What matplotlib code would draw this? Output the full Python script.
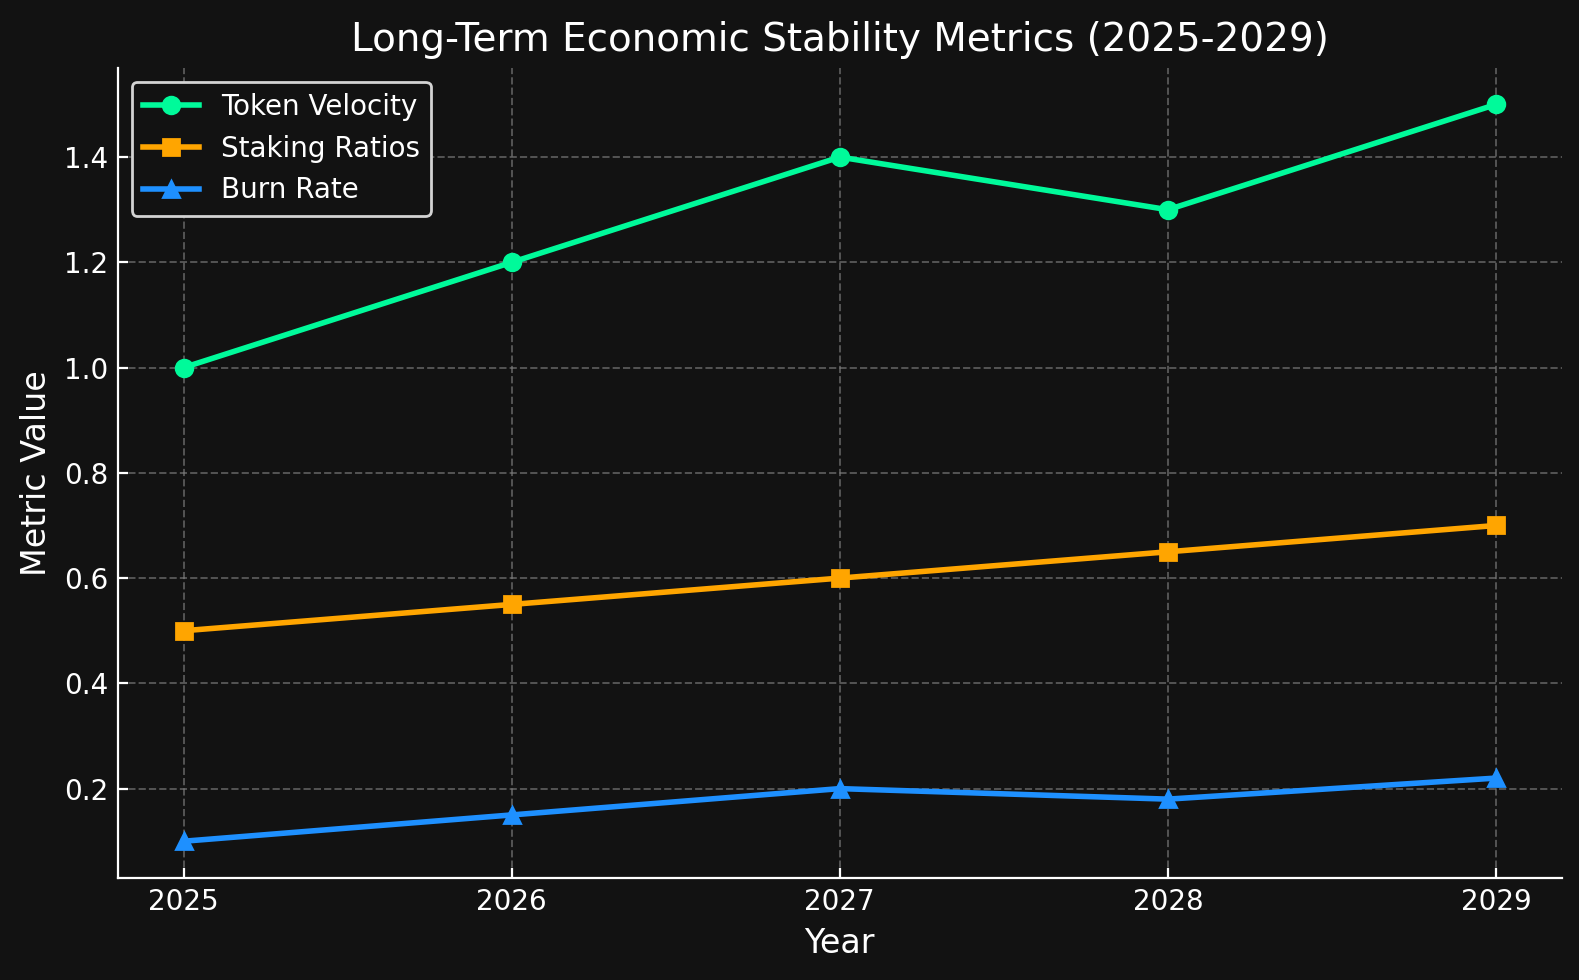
import matplotlib
matplotlib.use("Agg")
import matplotlib.pyplot as plt

years = [2025, 2026, 2027, 2028, 2029]
token_velocity = [1.0, 1.2, 1.4, 1.3, 1.5]
staking_ratios = [0.5, 0.55, 0.6, 0.65, 0.7]
burn_rate = [0.1, 0.15, 0.2, 0.18, 0.22]

plt.style.use("dark_background")
bg = "#121212"
fig, ax = plt.subplots(figsize=(7.895, 4.9), dpi=200)
fig.patch.set_facecolor(bg)
ax.set_facecolor(bg)

ax.plot(years, token_velocity, marker="o", color="#00FA9A", linewidth=2, markersize=6, label="Token Velocity")
ax.plot(years, staking_ratios, marker="s", color="#FFA500", linewidth=2, markersize=6, label="Staking Ratios")
ax.plot(years, burn_rate, marker="^", color="#1E90FF", linewidth=2, markersize=6, label="Burn Rate")

ax.set_xticks(years)
ax.set_xticklabels([str(y) for y in years])
ax.set_title("Long-Term Economic Stability Metrics (2025-2029)", fontsize=14)
ax.set_xlabel("Year", fontsize=12)
ax.set_ylabel("Metric Value", fontsize=12)
ax.tick_params(direction="in", labelsize=10)
ax.grid(True, linestyle="--", color="gray", alpha=0.6, linewidth=0.7)
ax.spines["top"].set_visible(False)
ax.spines["right"].set_visible(False)
leg = ax.legend(loc="upper left", fontsize=10, facecolor=bg, edgecolor="lightgray", framealpha=1)
fig.subplots_adjust(left=0.0747, right=0.989, top=0.931, bottom=0.104)
fig.savefig("out.png", dpi=200, facecolor=bg)
